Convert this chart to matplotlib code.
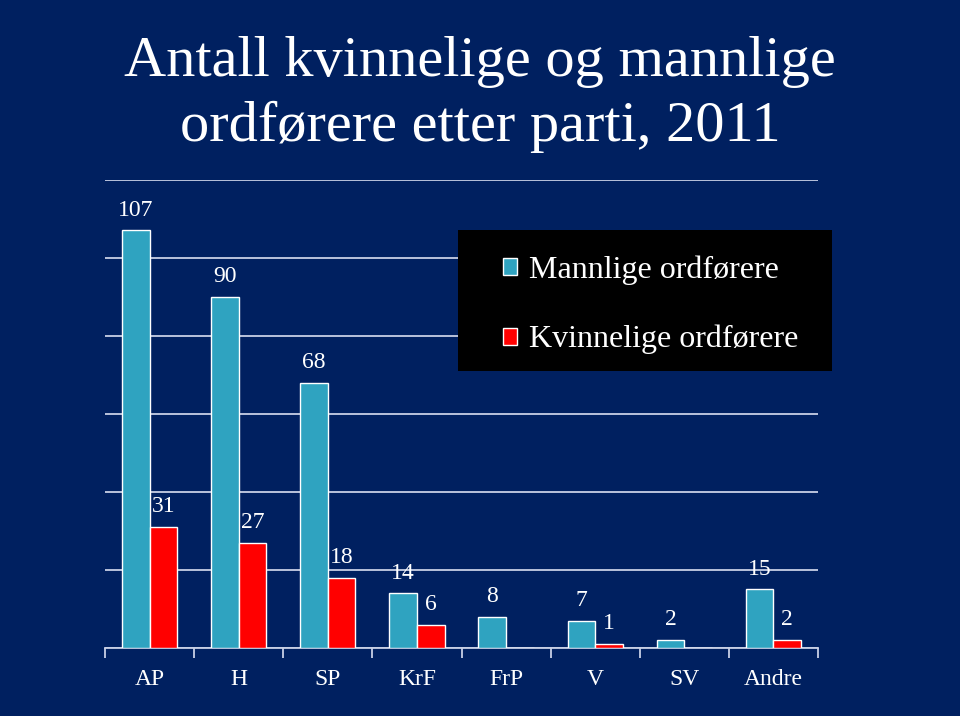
import numpy as np
import matplotlib.pyplot as plt
from matplotlib.patches import Rectangle, Patch

# Data
partier = ['AP', 'H', 'SP', 'KrF', 'FrP', 'V', 'SV', 'Andre']
mannlige = [107, 90, 68, 14, 8, 7, 2, 15]
kvinnelige = [31, 27, 18, 6, 0, 1, 0, 2]
serie_navn = ['Mannlige ordførere', 'Kvinnelige ordførere']
tittel = 'Antall kvinnelige og mannlige\nordførere etter parti, 2011'

bg = '#002060'
teal = '#2fa3c0'
red = '#ff0000'
grid_col = '#c8d0e6'

plt.rcParams['font.family'] = ['Liberation Serif', 'DejaVu Serif']

fig = plt.figure(figsize=(9.6, 7.16), dpi=100, facecolor=bg)
ax = fig.add_axes([0.1094, 0.095, 0.7427, 0.654])
ax.set_facecolor(bg)

x = np.arange(len(partier))
w = 0.31
b1 = ax.bar(x - w / 2, mannlige, w, color=teal, edgecolor='white', linewidth=1, zorder=3)
b2 = ax.bar(x + w / 2, kvinnelige, w, color=red, edgecolor='white', linewidth=1, zorder=3)

for bars, vals in [(b1, mannlige), (b2, kvinnelige)]:
    for bar, v in zip(bars, vals):
        if v == 0:
            continue
        ax.text(bar.get_x() + bar.get_width() / 2, v + 2.5, str(v),
                ha='center', va='bottom', color='white', fontsize=17, zorder=4)

ax.set_xlim(-0.5, len(partier) - 0.5)
ax.set_ylim(0, 120)
ax.set_yticks(np.arange(0, 121, 20))
ax.yaxis.grid(True, color=grid_col, linewidth=1.3, zorder=0)
ax.tick_params(axis='y', length=0, labelleft=False)

ax.set_xticks(np.arange(-0.5, len(partier), 1))
ax.set_xticklabels([])
ax.set_xticks(x, minor=True)
ax.set_xticklabels(partier, minor=True)
ax.tick_params(axis='x', which='major', length=7, width=1.3, color=grid_col, direction='out')
ax.tick_params(axis='x', which='minor', length=0, pad=15, labelsize=17, labelcolor='white')

for s in ['top', 'right', 'left']:
    ax.spines[s].set_visible(False)
ax.spines['bottom'].set_color(grid_col)
ax.spines['bottom'].set_linewidth(1.3)

# Legend box
fig.patches.append(Rectangle((0.477, 0.482), 0.390, 0.197, transform=fig.transFigure,
                             facecolor='black', edgecolor='none', zorder=5))
handles = [Patch(facecolor=teal, edgecolor='white'), Patch(facecolor=red, edgecolor='white')]
leg = fig.legend(handles, serie_navn, loc='center left', bbox_to_anchor=(0.524, 0.574),
                 frameon=False, fontsize=23, labelcolor='white', handlelength=0.45,
                 handleheight=0.45, handletextpad=0.35, labelspacing=1.25,
                 borderpad=0, borderaxespad=0)
leg.set_zorder(6)

fig.text(0.5, 0.950, tittel, ha='center', va='top', color='white', fontsize=42,
         linespacing=1.32)

fig.savefig('out.png', dpi=100, facecolor=bg)
